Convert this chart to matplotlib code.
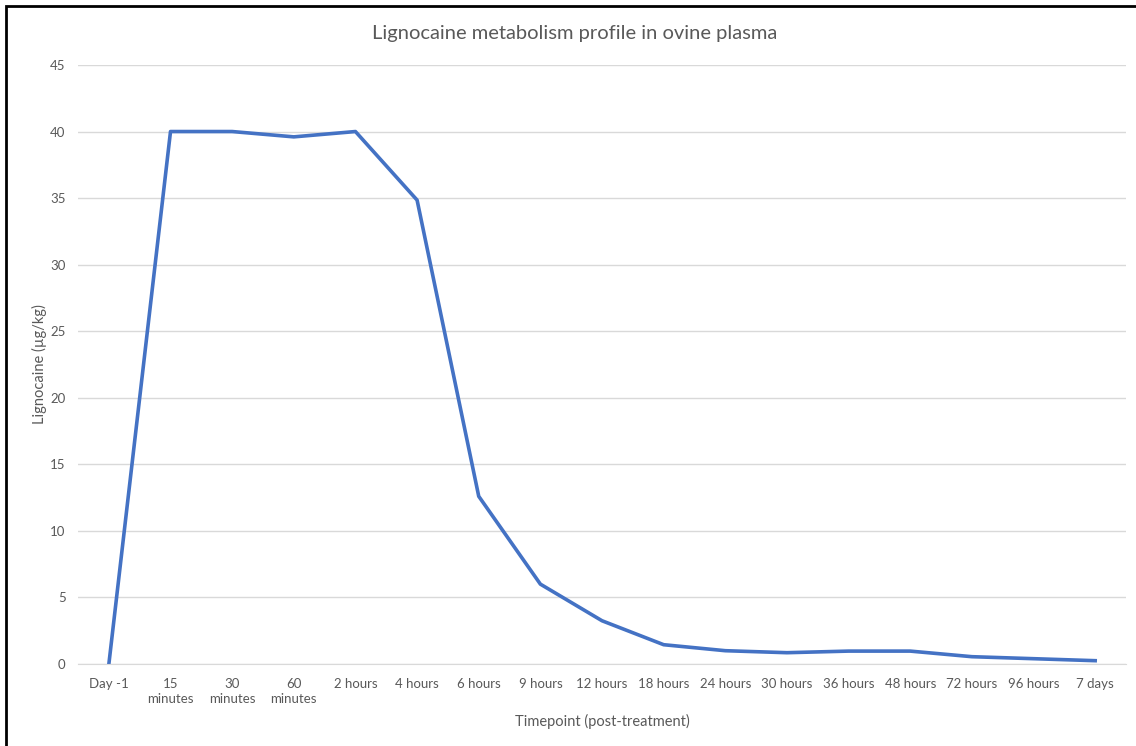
import matplotlib.pyplot as plt
from matplotlib.patches import Rectangle

plt.rcParams['font.family'] = ['Lato', 'DejaVu Sans']

timepoints = ["Day -1", "15\nminutes", "30\nminutes", "60\nminutes", "2 hours",
              "4 hours", "6 hours", "9 hours", "12 hours", "18 hours", "24 hours",
              "30 hours", "36 hours", "48 hours", "72 hours", "96 hours", "7 days"]
lignocaine = [0, 40.0, 40.0, 39.6, 40.0, 34.85, 12.6, 6.0, 3.25, 1.45, 1.0,
              0.85, 0.97, 0.97, 0.55, 0.4, 0.25]

grey = "#595959"

fig = plt.figure(figsize=(11.36, 7.46), dpi=100)
ax = fig.add_axes([0.0687, 0.1099, 0.9225, 0.803])

x = range(len(timepoints))
ax.plot(x, lignocaine, color="#4472C4", lw=2.6, solid_joinstyle="round")

ax.set_xlim(-0.5, len(timepoints) - 0.5)
ax.set_ylim(0, 45)
ax.set_yticks(range(0, 46, 5))
ax.set_xticks(list(x))
ax.set_xticklabels(timepoints, linespacing=1.3)
ax.grid(axis="y", color="#d9d9d9", lw=1)
ax.set_axisbelow(True)
for s in ["top", "right", "left"]:
    ax.spines[s].set_visible(False)
ax.spines["bottom"].set_color("#d9d9d9")
ax.tick_params(length=0, colors=grey, labelsize=9.5)
ax.tick_params(axis="y", pad=9)
ax.tick_params(axis="x", pad=10)

fig.text(575 / 1136, 1 - 33 / 746, "Lignocaine metabolism profile in ovine plasma",
         color=grey, fontsize=14.5, ha="center", va="center")
ax.set_xlabel("Timepoint (post-treatment)", color=grey, fontsize=10.5)
ax.xaxis.set_label_coords(0.5, -0.084)
ax.set_ylabel("Lignocaine (µg/kg)", color=grey, fontsize=10.5)
ax.yaxis.set_label_coords(-0.03, 0.5)

# outer frame of the chart
fig.patches.append(Rectangle((6 / 1136, -0.05), 1.2, 0.05 + 1 - 6 / 746,
                             transform=fig.transFigure, fill=False,
                             edgecolor="black", lw=2))

fig.savefig("out.png", dpi=100)
